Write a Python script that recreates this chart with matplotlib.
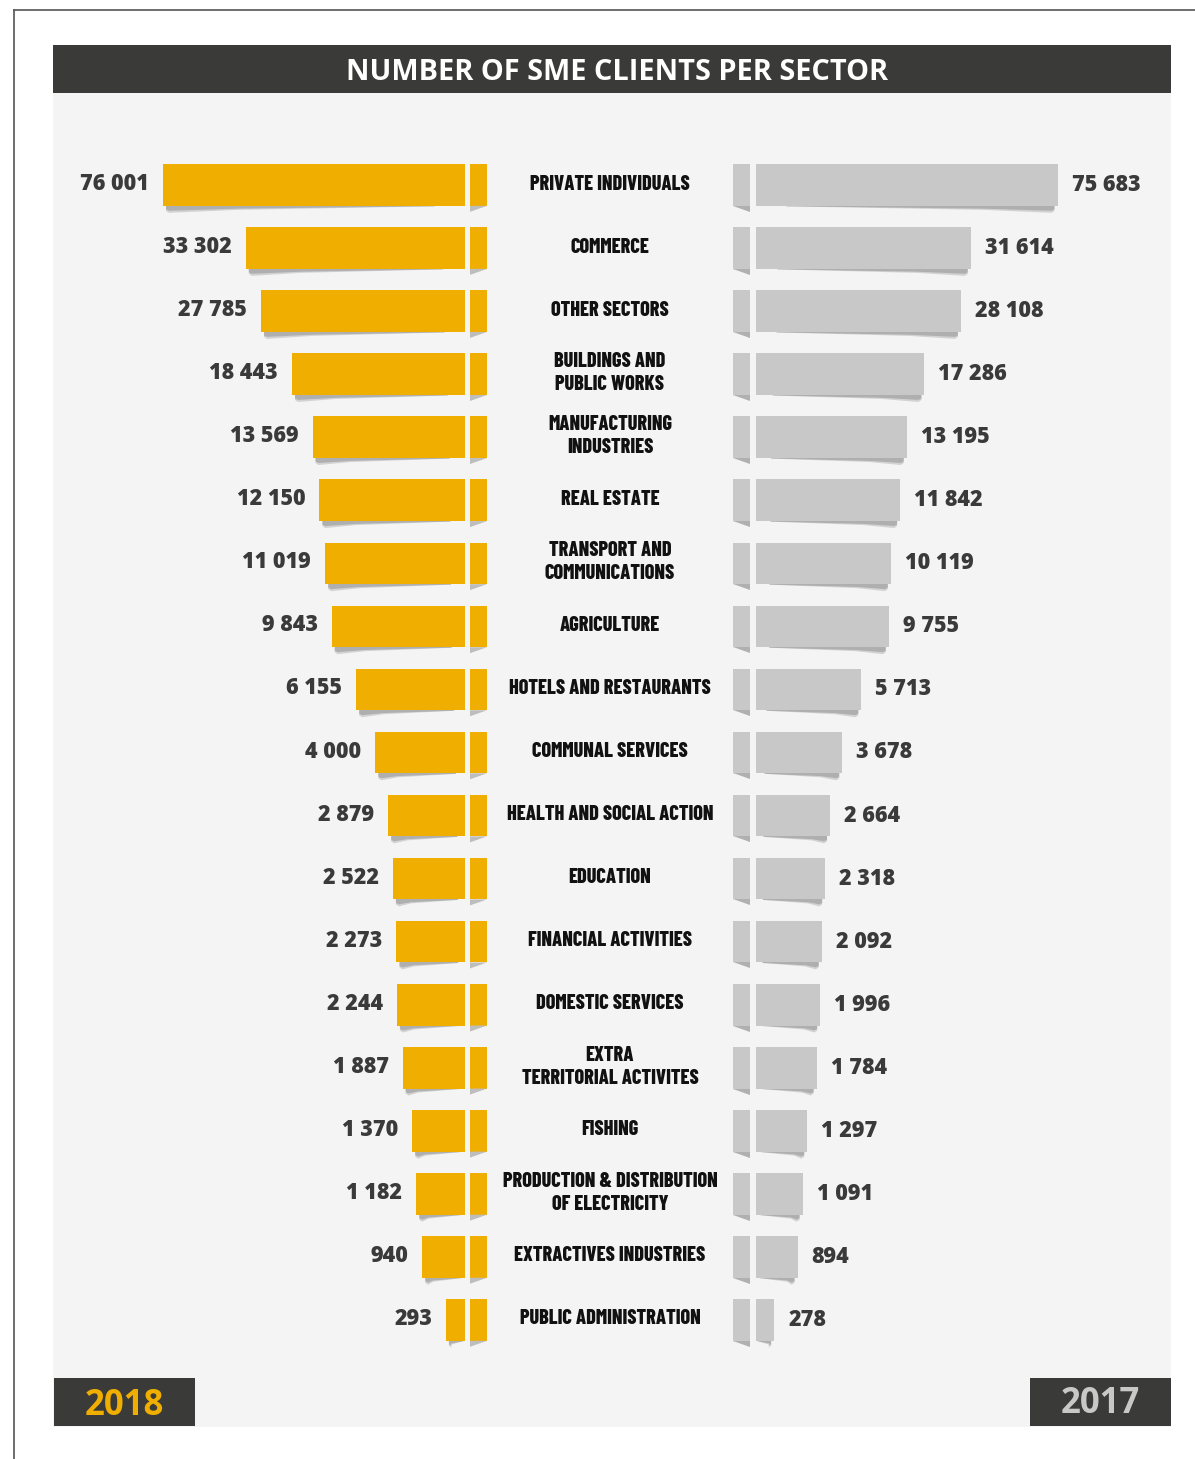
import numpy as np
import matplotlib
matplotlib.use("Agg")
import matplotlib.pyplot as plt
from matplotlib.patches import Rectangle, Polygon
from matplotlib import font_manager

# data
sectors = ["PRIVATE INDIVIDUALS", "COMMERCE", "OTHER SECTORS",
           "BUILDINGS AND\nPUBLIC WORKS", "MANUFACTURING\nINDUSTRIES",
           "REAL ESTATE", "TRANSPORT AND\nCOMMUNICATIONS", "AGRICULTURE",
           "HOTELS AND RESTAURANTS", "COMMUNAL SERVICES",
           "HEALTH AND SOCIAL ACTION", "EDUCATION", "FINANCIAL ACTIVITIES",
           "DOMESTIC SERVICES", "EXTRA\nTERRITORIAL ACTIVITES", "FISHING",
           "PRODUCTION & DISTRIBUTION\nOF ELECTRICITY",
           "EXTRACTIVES INDUSTRIES", "PUBLIC ADMINISTRATION"]
v2018 = [76001, 33302, 27785, 18443, 13569, 12150, 11019, 9843, 6155, 4000,
         2879, 2522, 2273, 2244, 1887, 1370, 1182, 940, 293]
v2017 = [75683, 31614, 28108, 17286, 13195, 11842, 10119, 9755, 5713, 3678,
         2664, 2318, 2092, 1996, 1784, 1297, 1091, 894, 278]
title = "NUMBER OF SME CLIENTS PER SECTOR"
years = ["2018", "2017"]

gold = "#F0AE00"
grey = "#C8C8C8"
dark = "#3A3A38"
panel = "#F4F4F4"

# condensed font for the sector names, first one that is installed
names = {f.name for f in font_manager.fontManager.ttflist}
narrow = "DejaVu Sans"
for cand in ["Barlow Condensed", "Roboto Condensed", "Oswald",
             "Archivo Narrow", "PT Sans Narrow", "Fjalla One"]:
    if cand in names:
        narrow = cand
        break

W, H = 1195, 1459
fig = plt.figure(figsize=(W / 100, H / 100), dpi=100)

# background axes in pixel units
bg = fig.add_axes([0, 0, 1, 1], zorder=0)
bg.set_xlim(0, W)
bg.set_ylim(H, 0)
bg.axis("off")

bg.plot([14, W], [10, 10], color="#555555", lw=1.2)
bg.plot([14, 14], [10, H], color="#555555", lw=1.2)
bg.add_patch(Rectangle((53, 93), 1118, 1334, color=panel, lw=0))
bg.add_patch(Rectangle((53, 45), 1118, 48, color=dark, lw=0))
bg.text(617, 72, title, color="white", fontsize=20.8, fontweight="bold",
        family="Open Sans", ha="center", va="center")
bg.add_patch(Rectangle((54, 1378), 141, 48, color=dark, lw=0))
bg.add_patch(Rectangle((1030, 1378), 141, 48, color=dark, lw=0))
bg.text(124, 1406, years[0], color=gold, fontsize=25, fontweight="bold",
        family="Open Sans", ha="center", va="center")
bg.text(1100, 1404, years[1], color=grey, fontsize=25, fontweight="bold",
        family="Open Sans", ha="center", va="center")


# bar axes: power scale so small values stay visible
def fwd(v):
    return np.power(np.maximum(v, 0), 0.35)


def inv(t):
    return np.power(np.maximum(t, 0), 1 / 0.35)


n = len(sectors)
y = np.arange(n)
top_px, bot_px = 153.5, 1351.5
vmin, vmax = 67, 76001


def px_rect(x0, x1):
    return [x0 / W, 1 - bot_px / H, (x1 - x0) / W, (bot_px - top_px) / H]


axL = fig.add_axes(px_rect(163, 465), zorder=2)
axR = fig.add_axes(px_rect(756, 1058), zorder=2)
for ax in (axL, axR):
    ax.set_xscale("function", functions=(fwd, inv))
    ax.set_ylim(n - 0.5, -0.5)
    ax.axis("off")
axL.set_xlim(vmax, vmin)
axR.set_xlim(vmin, vmax)

bh = 0.66
axL.barh(y, v2018, height=bh, color=gold, lw=0)
axR.barh(y, v2017, height=bh, color=grey, lw=0)


def to_px(ax, x, yy):
    d = ax.transData.transform((x, yy))
    return bg.transData.inverted().transform(d)


for i in range(n):
    # 2018 side
    xo, yt = to_px(axL, v2018[i], i - bh / 2)
    xi, yb = to_px(axL, vmin, i + bh / 2)
    L = xi - xo
    for k, a in [(1.0, 0.25), (0.7, 0.35)]:
        bg.add_patch(Polygon([(xo + 3, yb - 1), (xo + 0.9 * L, yb - 1),
                              (xo + 0.9 * L, yb + 0.5),
                              (xo + 0.25 * L, yb + 4 * k),
                              (xo + 6, yb + 7 * k), (xo + 3, yb + 5 * k)],
                             closed=True, color="#6e6e6e", alpha=a, lw=0))
    bg.add_patch(Rectangle((470, yt), 17, yb - yt, color=gold, lw=0))
    bg.add_patch(Polygon([(470, yb), (487, yb), (470, yb + 6)],
                         color="#BDBDBD", lw=0))
    bg.text(xo - 14, (yt + yb) / 2 - 1, f"{v2018[i]:,}".replace(",", " "),
            ha="right", va="center", fontsize=15.5, fontweight=800,
            family="Open Sans", color="#3A3A3A")

    # 2017 side
    xi2, yt2 = to_px(axR, vmin, i - bh / 2)
    xo2, yb2 = to_px(axR, v2017[i], i + bh / 2)
    L2 = xo2 - xi2
    for k, a in [(1.0, 0.25), (0.7, 0.35)]:
        bg.add_patch(Polygon([(xo2 - 3, yb2 - 1), (xo2 - 0.9 * L2, yb2 - 1),
                              (xo2 - 0.9 * L2, yb2 + 0.5),
                              (xo2 - 0.25 * L2, yb2 + 4 * k),
                              (xo2 - 6, yb2 + 7 * k), (xo2 - 3, yb2 + 5 * k)],
                             closed=True, color="#6e6e6e", alpha=a, lw=0))
    bg.add_patch(Rectangle((733, yt2), 17, yb2 - yt2, color=grey, lw=0))
    bg.add_patch(Polygon([(733, yb2), (750, yb2), (750, yb2 + 6)],
                         color="#B0B0B0", lw=0))
    bg.text(xo2 + 14, (yt2 + yb2) / 2, f"{v2017[i]:,}".replace(",", " "),
            ha="left", va="center", fontsize=15.5, fontweight=800,
            family="Open Sans", color="#3A3A3A")

    # sector label
    bg.text(610, (yt + yb) / 2 - 1, sectors[i], ha="center", va="center",
            fontsize=14.5, fontweight=800, family=narrow, color="#111111",
            linespacing=1.25)

fig.savefig("out.png", dpi=100)
